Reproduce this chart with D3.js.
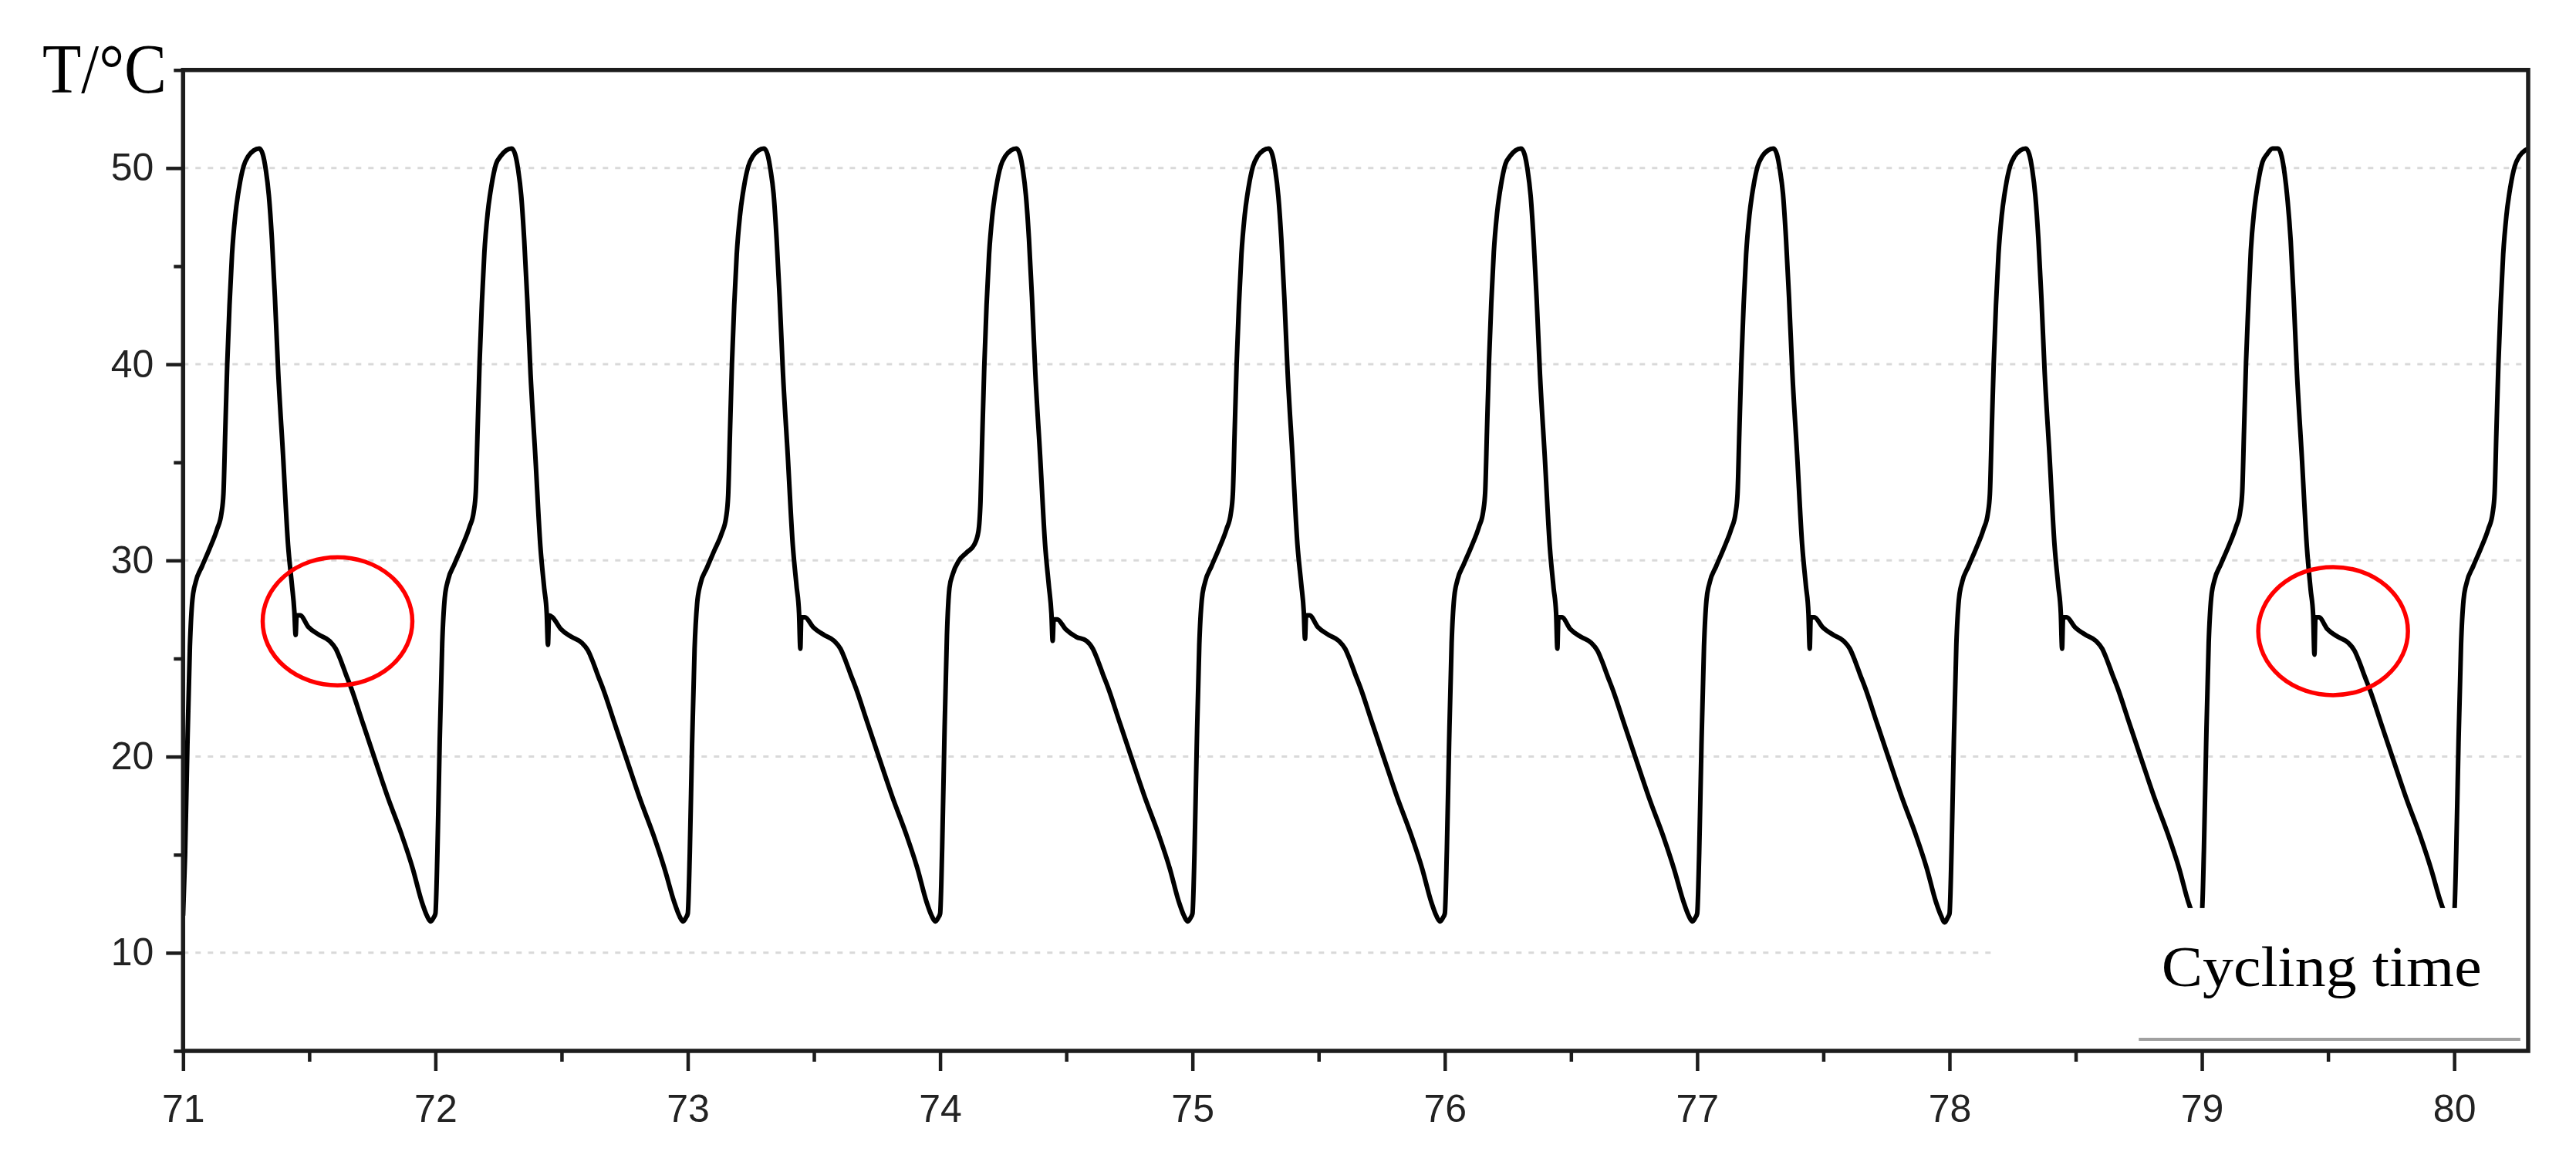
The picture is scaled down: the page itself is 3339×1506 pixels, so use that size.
<!DOCTYPE html>
<html>
<head>
<meta charset="utf-8">
<script src="https://cdn.jsdelivr.net/npm/d3@7"></script>
<style>
  html, body { margin: 0; padding: 0; background: #fff; }
  svg { display: block; }
</style>
</head>
<body>
<svg id="chart"></svg>
<script>
// start of each cycle on the time axis
var cycleStart = [71, 72, 73, 74, 75, 76, 77, 78, 79, 80];
// sample positions inside one cycle (fraction of a cycle)
var samplePhase = [0.000, 0.008, 0.017, 0.027, 0.037, 0.050, 0.075, 0.105, 0.135, 0.152,
                   0.160, 0.167, 0.175, 0.184, 0.194, 0.207, 0.222, 0.240, 0.258, 0.280,
                   0.302, 0.316, 0.328, 0.340, 0.352, 0.364, 0.377, 0.396, 0.416, 0.431,
                   0.441, 0.446, 0.450, 0.464, 0.497, 0.540, 0.580, 0.605, 0.625, 0.645,
                   0.666, 0.710, 0.762, 0.812, 0.864, 0.910, 0.946, 0.966, 0.981, 0.993];
var temp71 = [11.9, 15.0, 20.5, 25.6, 28.0, 28.9, 29.7, 30.6, 31.6, 32.4,
              33.4, 36.5, 40.0, 43.0, 45.6, 47.6, 49.0, 50.1, 50.6, 50.9,
              51.0, 50.7, 49.9, 48.6, 46.4, 43.4, 39.6, 35.4, 30.8, 28.8,
              27.4, 26.2, 27.2, 27.2, 26.6, 26.2, 25.9, 25.5, 24.9, 24.2,
              23.5, 21.8, 19.8, 17.9, 16.1, 14.3, 12.6, 11.9, 11.6, 11.8];
var temp72 = [12.0, 15.2, 20.8, 25.8, 28.1, 29.0, 29.8, 30.7, 31.7, 32.5,
              33.5, 36.6, 40.1, 43.1, 45.7, 47.7, 49.1, 50.2, 50.6, 50.9,
              51.0, 50.7, 49.9, 48.6, 46.3, 43.3, 39.5, 35.3, 30.7, 28.6,
              27.3, 25.7, 27.2, 27.1, 26.5, 26.1, 25.8, 25.4, 24.8, 24.1,
              23.4, 21.7, 19.7, 17.8, 16.0, 14.2, 12.6, 11.9, 11.6, 11.8];
var temp73 = [12.0, 15.1, 20.6, 25.5, 27.8, 28.8, 29.6, 30.5, 31.4, 32.2,
              33.3, 36.4, 40.0, 43.0, 45.6, 47.6, 49.0, 50.1, 50.6, 50.9,
              51.0, 50.7, 49.9, 48.7, 46.4, 43.4, 39.6, 35.4, 30.8, 28.7,
              27.3, 25.5, 27.1, 27.1, 26.6, 26.2, 25.9, 25.5, 24.9, 24.2,
              23.5, 21.8, 19.8, 17.9, 16.1, 14.3, 12.6, 11.9, 11.6, 11.8];
var temp74 = [12.0, 15.3, 21.0, 26.2, 28.6, 29.3, 30.0, 30.4, 30.8, 31.5,
              33.0, 36.3, 39.9, 43.0, 45.6, 47.6, 49.0, 50.1, 50.6, 50.9,
              51.0, 50.7, 49.9, 48.6, 46.4, 43.4, 39.6, 35.4, 30.8, 28.7,
              27.3, 25.9, 27.0, 27.0, 26.5, 26.1, 25.9, 25.5, 24.9, 24.2,
              23.5, 21.8, 19.8, 17.9, 16.1, 14.3, 12.6, 11.9, 11.6, 11.8];
var temp75 = [12.0, 15.1, 20.6, 25.7, 28.0, 28.9, 29.7, 30.6, 31.6, 32.4,
              33.4, 36.5, 40.0, 43.0, 45.6, 47.6, 49.0, 50.1, 50.6, 50.9,
              51.0, 50.7, 49.9, 48.6, 46.4, 43.4, 39.6, 35.4, 30.8, 28.8,
              27.4, 26.0, 27.2, 27.2, 26.6, 26.2, 25.9, 25.5, 24.9, 24.2,
              23.5, 21.8, 19.8, 17.9, 16.1, 14.3, 12.6, 11.9, 11.6, 11.8];
var temp76 = [12.0, 15.2, 20.7, 25.8, 28.1, 29.0, 29.8, 30.7, 31.7, 32.5,
              33.5, 36.6, 40.1, 43.1, 45.7, 47.7, 49.1, 50.2, 50.6, 50.9,
              51.0, 50.7, 49.9, 48.6, 46.3, 43.3, 39.5, 35.3, 30.7, 28.6,
              27.3, 25.5, 27.1, 27.1, 26.5, 26.1, 25.8, 25.4, 24.8, 24.1,
              23.4, 21.7, 19.7, 17.8, 16.0, 14.2, 12.6, 11.9, 11.6, 11.8];
var temp77 = [12.0, 15.1, 20.6, 25.6, 28.0, 28.9, 29.7, 30.6, 31.6, 32.4,
              33.4, 36.5, 40.0, 43.0, 45.6, 47.6, 49.0, 50.1, 50.6, 50.9,
              51.0, 50.7, 49.9, 48.7, 46.4, 43.4, 39.6, 35.4, 30.8, 28.7,
              27.3, 25.5, 27.1, 27.1, 26.6, 26.2, 25.9, 25.5, 24.9, 24.2,
              23.5, 21.8, 19.8, 17.9, 16.1, 14.3, 12.6, 11.9, 11.55, 11.8];
var temp78 = [12.0, 15.2, 20.7, 25.7, 28.0, 28.9, 29.7, 30.6, 31.6, 32.4,
              33.4, 36.5, 40.0, 43.0, 45.6, 47.6, 49.0, 50.1, 50.6, 50.9,
              51.0, 50.7, 49.9, 48.6, 46.4, 43.4, 39.6, 35.4, 30.8, 28.7,
              27.3, 25.5, 27.1, 27.1, 26.6, 26.2, 25.9, 25.5, 24.9, 24.2,
              23.5, 21.8, 19.8, 17.9, 16.1, 14.3, 12.6, 11.9, 11.6, 11.8];
var temp79 = [12.0, 15.2, 20.7, 25.8, 28.1, 29.0, 29.8, 30.7, 31.7, 32.5,
              33.5, 36.6, 40.1, 43.0, 45.8, 47.8, 49.2, 50.3, 50.7, 51.0,
              51.0, 50.6, 49.7, 48.3, 46.3, 43.3, 39.5, 35.3, 30.7, 28.5,
              27.2, 25.2, 27.1, 27.1, 26.5, 26.1, 25.8, 25.4, 24.8, 24.1,
              23.4, 21.7, 19.7, 17.8, 16.0, 14.2, 12.6, 11.9, 11.6, 11.8];
var temp80 = [12.0, 15.2, 20.7, 25.7, 28.0, 28.9, 29.7, 30.6, 31.6, 32.4,
              33.4, 36.5, 40.0, 43.0, 45.6, 47.6, 49.0, 50.1, 50.6, 50.9,
              51.0];
var cycleTemps = [temp71, temp72, temp73, temp74, temp75, temp76, temp77, temp78, temp79, temp80];

var xMajorTicks = [71, 72, 73, 74, 75, 76, 77, 78, 79, 80];
var xMinorTicks = [71.5, 72.5, 73.5, 74.5, 75.5, 76.5, 77.5, 78.5, 79.5];
var yMajorTicks = [10, 20, 30, 40, 50];
var yMinorTicks = [5, 15, 25, 35, 45, 55];
var gridValues = [10, 20, 30, 40, 50];

// red ellipses drawn round the little dip after the peak
var markTime = [71.612, 79.52];
var markTemp = [26.9, 26.4];

var yLabel = "T/°C";
var xLabel = "Cycling time";

var W = 3339, H = 1506;
var margin = { top: 90.7, right: 62, bottom: 144, left: 237.3 };

var svg = d3.select("#chart").attr("width", W).attr("height", H);
svg.append("rect").attr("width", W).attr("height", H).attr("fill", "#fff");

var x = d3.scaleLinear().domain([71, 80.293]).range([margin.left, W - margin.right]);
var y = d3.scaleLinear().domain([5, 55]).range([H - margin.bottom, margin.top]);

var x0 = x.range()[0], x1 = x.range()[1], yB = y.range()[0], yT = y.range()[1];

//build the points of the series
var points = [];
cycleStart.forEach(function(c, i) {
    cycleTemps[i].forEach(function(t, j) {
        points.push({ time: c + samplePhase[j], temp: t });
    });
});

svg.append("defs").append("clipPath").attr("id", "plotClip")
    .append("rect").attr("x", x0).attr("y", yT).attr("width", x1 - x0).attr("height", yB - yT);

//grid lines
svg.append("g").selectAll("line")
    .data(gridValues)
    .enter().append("line")
    .attr("x1", x0).attr("x2", x1)
    .attr("y1", function(d) { return y(d); })
    .attr("y2", function(d) { return y(d); })
    .style("stroke", "#d9d9d9")
    .style("stroke-width", 3)
    .style("stroke-dasharray", "7,9");

//the temperature line
var line = d3.line()
    .x(function(d) { return x(d.time); })
    .y(function(d) { return y(d.temp); })
    .curve(d3.curveMonotoneX);

svg.append("path")
    .datum(points)
    .attr("clip-path", "url(#plotClip)")
    .attr("d", line)
    .style("fill", "none")
    .style("stroke", "#000")
    .style("stroke-width", 6)
    .style("stroke-linejoin", "round");

//white label box in the lower right corner
svg.append("rect")
    .attr("x", x(78.17))
    .attr("y", y(12.28))
    .attr("width", x1 - x(78.17) - 3)
    .attr("height", y(5) - y(12.28) - 3)
    .style("fill", "#fff");

svg.append("line")
    .attr("x1", x(78.75)).attr("x2", x(80.262))
    .attr("y1", y(5.59)).attr("y2", y(5.59))
    .style("stroke", "#a0a0a0")
    .style("stroke-width", 4);

svg.append("text")
    .attr("x", x(78.84))
    .attr("y", y(8.3))
    .attr("textLength", 415)
    .attr("lengthAdjust", "spacingAndGlyphs")
    .style("font-family", "'Liberation Serif', 'Times New Roman', serif")
    .style("font-size", "75px")
    .style("fill", "#000")
    .text(xLabel);

//red ellipses
svg.append("g").selectAll("ellipse")
    .data(markTime)
    .enter().append("ellipse")
    .attr("cx", function(d) { return x(d); })
    .attr("cy", function(d, i) { return y(markTemp[i]); })
    .attr("rx", 97)
    .attr("ry", 83)
    .style("fill", "none")
    .style("stroke", "#ff0000")
    .style("stroke-width", 5.5);

//frame
svg.append("rect")
    .attr("x", x0).attr("y", yT)
    .attr("width", x1 - x0).attr("height", yB - yT)
    .style("fill", "none")
    .style("stroke", "#1c1c1c")
    .style("stroke-width", 5.5);

//axes
var tickFont = "'Liberation Sans', Arial, sans-serif";

var yAxis = svg.append("g")
    .attr("transform", "translate(" + x0 + ",0)")
    .call(d3.axisLeft(y).tickValues(yMajorTicks).tickSize(22).tickPadding(16).tickFormat(d3.format("d")));
var yMinor = svg.append("g")
    .attr("transform", "translate(" + x0 + ",0)")
    .call(d3.axisLeft(y).tickValues(yMinorTicks).tickSize(12).tickFormat(""));

var xAxis = svg.append("g")
    .attr("transform", "translate(0," + yB + ")")
    .call(d3.axisBottom(x).tickValues(xMajorTicks).tickSize(26).tickPadding(30).tickFormat(d3.format("d")));
var xMinor = svg.append("g")
    .attr("transform", "translate(0," + yB + ")")
    .call(d3.axisBottom(x).tickValues(xMinorTicks).tickSize(14).tickFormat(""));

[yAxis, yMinor, xAxis, xMinor].forEach(function(a) {
    a.select(".domain").remove();
    a.selectAll(".tick line").style("stroke", "#1c1c1c").style("stroke-width", 4.5);
    a.selectAll(".tick text")
        .style("font-family", tickFont)
        .style("font-size", "50px")
        .style("fill", "#222");
});

//y axis title
svg.append("text")
    .attr("x", 55)
    .attr("y", 120)
    .attr("textLength", 161)
    .attr("lengthAdjust", "spacingAndGlyphs")
    .style("font-family", "'Liberation Serif', 'Times New Roman', serif")
    .style("font-size", "90px")
    .style("fill", "#000")
    .text(yLabel);
</script>
</body>
</html>
